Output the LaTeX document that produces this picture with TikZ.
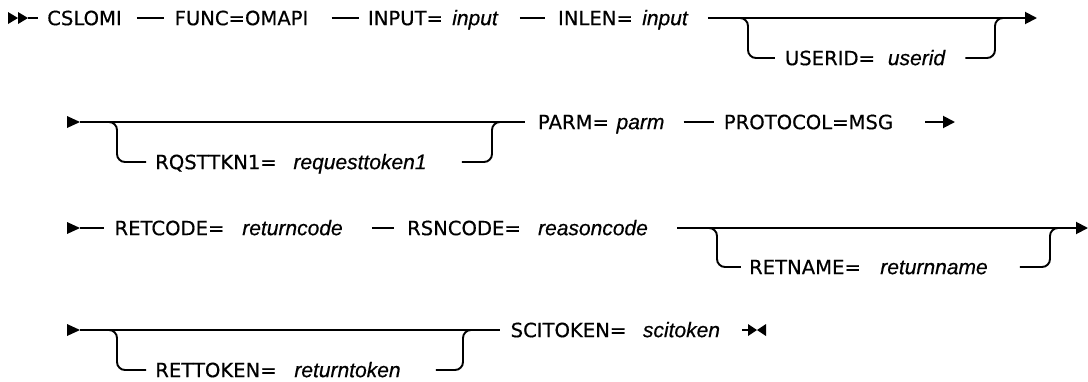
\documentclass[tikz,border=0pt]{standalone}
\usepackage{fontspec}
\setmainfont{DejaVu Sans}
\newfontfamily\kwfam{DejaVu Sans}[FakeBold=0.5]
\newfontfamily\argfam{Liberation Sans Italic}[FakeBold=0.5]
\usetikzlibrary{arrows.meta}
\newcommand\kwfont{\fontsize{19.6}{22}\selectfont\kwfam}
\newcommand\argfont{\fontsize{21}{23}\selectfont\argfam}
\tikzset{
  kw/.style={inner sep=0pt, text height=14.3pt, text depth=0pt, font=\kwfont},
  arg/.style={inner sep=0pt, text height=14.3pt, text depth=0pt, font=\argfont},
  rail/.style={line width=1.9pt},
  branch/.style={rail, rounded corners=8pt},
  tipend/.style={-{Triangle[length=12pt,width=12pt]}},
}
\begin{document}
\begin{tikzpicture}[x=1pt,y=-1pt]
\useasboundingbox (0,0) rectangle (1088,381);
% ---------- Row 1 ----------
\fill (8,12) -- (18,18) -- (8,24) -- cycle;
\fill (18,12) -- (28,18) -- (18,24) -- cycle;
\coordinate (s1) at (28,18);
\node[kw] (cslomi) at (84.5,18) {CSLOMI};
\node[kw] (func) at (241.5,18) {FUNC=OMAPI};
\node[kw] (inputk) at (405.5,18) {INPUT=};
\node[arg] (inputa) at (475,18) {input};
\node[kw] (inlenk) at (595.5,18) {INLEN=};
\node[arg] (inlena) at (665,18) {input};
\node[kw] (useridk) at (830,58) {USERID=};
\node[arg] (userida) at (916.5,58) {userid};
\coordinate (e1) at (1037,18);
\coordinate (b1) at (735,18);
\draw[rail, shorten >=9pt] (s1) -- (cslomi.west);
\draw[rail, shorten <=15pt, shorten >=10pt] (cslomi.east) -- (func.west);
\draw[rail, shorten <=23pt, shorten >=9pt] (func.east) -- (inputk.west);
\draw[rail, shorten <=22pt, shorten >=13pt] (inputa.east) -- (inlenk.west);
\draw[rail, tipend, shorten <=20pt] (inlena.east) -- (e1);
\draw[branch, shorten >=10pt] (b1) -- (748,18) |- (useridk.west);
\draw[branch, shorten <=20pt] (userida.east) -| (995,18) -- (1010,18);
% ---------- Row 2 ----------
\fill (67,116) -- (80,122) -- (67,128) -- cycle;
\coordinate (s2) at (80,122);
\coordinate (b2) at (100,122);
\node[kw] (rqstk) at (216,162) {RQSTTKN1=};
\node[arg] (rqsta) at (360,162) {requesttoken1};
\node[kw] (parmk) at (573.5,122) {PARM=};
\node[arg] (parma) at (640.5,122) {parm};
\node[kw] (proto) at (808.5,122) {PROTOCOL=MSG};
\coordinate (e2) at (955,122);
\draw[rail, shorten >=13pt] (s2) -- (parmk.west);
\draw[branch, shorten >=9pt] (b2) -- (117,122) |- (rqstk.west);
\draw[branch, shorten <=35pt] (rqsta.east) -| (492,122) -- (510,122);
\draw[rail, shorten <=19pt, shorten >=10pt] (parma.east) -- (proto.west);
\draw[rail, tipend, shorten <=32pt] (proto.east) -- (e2);
% ---------- Row 3 ----------
\fill (67,222) -- (80,228) -- (67,234) -- cycle;
\coordinate (s3) at (80,228);
\node[kw] (retk) at (169.5,228) {RETCODE=};
\node[arg] (reta) at (292.5,228) {returncode};
\node[kw] (rsnk) at (464,228) {RSNCODE=};
\node[arg] (rsna) at (593,228) {reasoncode};
\node[kw] (rnamek) at (805,267) {RETNAME=};
\node[arg] (rnamea) at (934,267) {returnname};
\coordinate (b3) at (700,228);
\coordinate (e3) at (1088,228);
\draw[rail, shorten >=10pt] (s3) -- (retk.west);
\draw[rail, shorten <=29pt, shorten >=13pt] (reta.east) -- (rsnk.west);
\draw[rail, tipend, shorten <=29pt] (rsna.east) -- (e3);
\draw[branch, shorten >=8pt] (b3) -- (717,228) |- (rnamek.west);
\draw[branch, shorten <=32pt] (rnamea.east) -| (1050,228) -- (1065,228);
% ---------- Row 4 ----------
\fill (67,324) -- (80,330) -- (67,336) -- cycle;
\coordinate (s4) at (80,330);
\coordinate (b4) at (100,330);
\node[kw] (rtokk) at (216,370) {RETTOKEN=};
\node[arg] (rtoka) at (347.5,370) {returntoken};
\node[kw] (scik) at (568.5,330) {SCITOKEN=};
\node[arg] (scia) at (681.5,330) {scitoken};
\coordinate (e4) at (752,330);
\draw[rail, shorten >=10pt] (s4) -- (scik.west);
\draw[branch, shorten >=9pt] (b4) -- (117,330) |- (rtokk.west);
\draw[branch, shorten <=35pt] (rtoka.east) -| (463,330) -- (480,330);
\draw[rail, shorten <=22pt] (scia.east) -- (e4);
\fill (748,324) -- (757,330) -- (748,336) -- cycle;
\fill (766,324) -- (757,330) -- (766,336) -- cycle;
\end{tikzpicture}
\end{document}
